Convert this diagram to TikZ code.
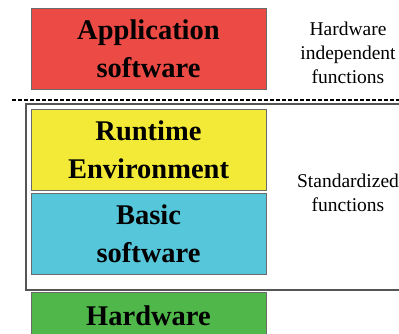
\documentclass[tikz,border=0pt]{standalone}
\usepackage{fontspec}
\setmainfont{Liberation Serif}
\definecolor{appred}{HTML}{EC4A44}
\definecolor{rteyellow}{HTML}{F2EA36}
\definecolor{bswcyan}{HTML}{56C6DA}
\definecolor{hwgreen}{HTML}{50B84A}
\definecolor{edgegray}{HTML}{6A6A6A}
\tikzset{
  layer/.style={draw=edgegray, line width=1pt, minimum width=235pt, minimum height=81pt,
    align=center, font=\fontsize{28.5}{38}\selectfont\bfseries, inner sep=0pt},
  side/.style={align=center, font=\fontsize{19.5}{24}\selectfont}
}
\begin{document}
\begin{tikzpicture}[x=1pt,y=-1pt]
\useasboundingbox (0,0) rectangle (399,333);
\clip (0,0) rectangle (399,333);
\fill[white] (0,0) rectangle (399,333);
% layers
\node[layer, fill=appred] (app) at (148.5,48.5) {Application\\software};
\node[layer, fill=rteyellow] (rte) at (148.5,149.5) {Runtime\\Environment};
\node[layer, fill=bswcyan] (bsw) at (148.5,233.5) {Basic\\software};
\node[layer, fill=hwgreen] (hw) at (148.5,332.5) {};
\node[layer, draw=none, minimum height=0pt] (hwtext) at (148.5,316) {Hardware};
% frame round standardized part
\draw[edgegray!80!black, line width=1.3pt] (26,104) rectangle (412,290);
\draw[black, line width=2pt, dash pattern=on 4pt off 2pt] (12,100) -- (399,100);
% side texts
\node[side] (indep) at (348,53) {Hardware\\independent\\functions};
\node[side] (std) at (348,193) {Standardized\\functions};
\end{tikzpicture}
\end{document}
